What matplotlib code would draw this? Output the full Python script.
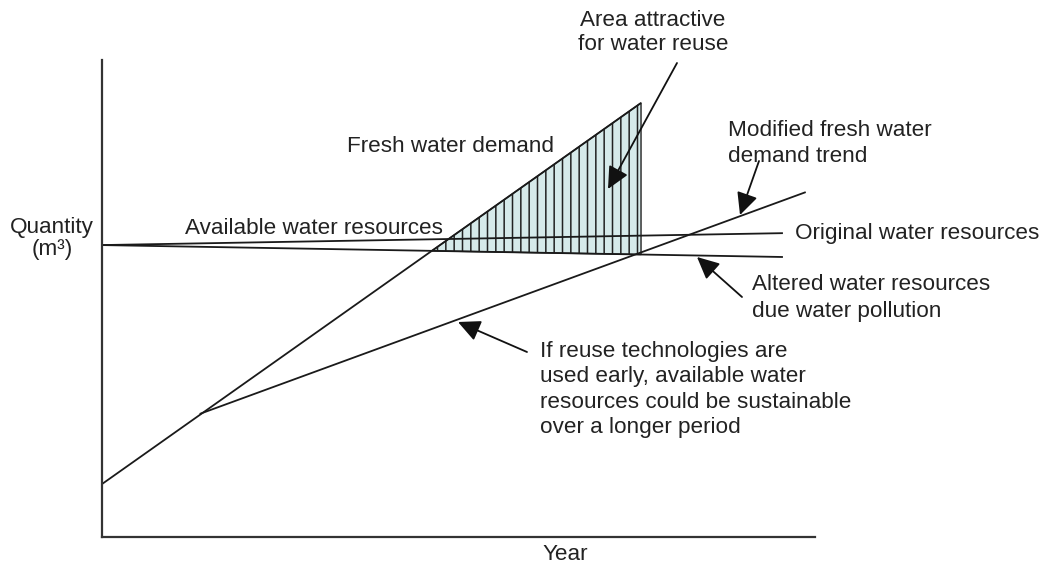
import numpy as np
import matplotlib
matplotlib.use("Agg")
from matplotlib import pyplot as plt
from matplotlib.patches import FancyArrowPatch

demand_year = [0.0, 75.6]
demand_qty = [11.1, 91.0]

resource_year = [0.0, 95.5]
original_qty = [61.2, 63.7]
altered_qty = [61.2, 58.7]

modified_year = [13.7, 98.7]
modified_qty = [25.8, 72.3]

W, H = 1043, 570
plt.rcParams['font.family'] = ['Liberation Sans', 'DejaVu Sans']
plt.rcParams['hatch.linewidth'] = 1.1
plt.rcParams['hatch.color'] = '#222222'

fig = plt.figure(figsize=(W / 100, H / 100), dpi=100)
ax = fig.add_axes([102 / W, (H - 537) / H, 713 / W, 477 / H])
ax.set_xlim(0, 100)
ax.set_ylim(0, 100)
ax.set_xticks([])
ax.set_yticks([])
for s in ['top', 'right']:
    ax.spines[s].set_visible(False)
for s in ['left', 'bottom']:
    ax.spines[s].set_linewidth(1.6)
    ax.spines[s].set_color('#333333')

line_kw = dict(color='#1a1a1a', lw=1.3, solid_capstyle='butt')
ax.plot(demand_year, demand_qty, **line_kw)
ax.plot(resource_year, original_qty, **line_kw)
ax.plot(resource_year, altered_qty, **line_kw)
ax.plot(modified_year, modified_qty, **line_kw)

# shaded area between demand line and altered resources
d_slope = np.diff(demand_qty)[0] / np.diff(demand_year)[0]
a_slope = np.diff(altered_qty)[0] / np.diff(resource_year)[0]
x_cross = (altered_qty[0] - demand_qty[0]) / (d_slope - a_slope)
xs = np.linspace(x_cross, demand_year[1], 60)
top = np.interp(xs, demand_year, demand_qty)
bot = np.interp(xs, resource_year, altered_qty)
ax.fill_between(xs, bot, top, facecolor='#d6eaea', edgecolor='#222222',
                hatch='||', linewidth=1.0)


def fp(px, py):
    return (px / W, 1 - py / H)


fs = 16.2
txt = dict(fontsize=fs, color='#222222', va='center')
fig.text(*fp(653, 20), 'Area attractive', ha='center', **txt)
fig.text(*fp(653, 45), 'for water reuse', ha='center', **txt)
fig.text(*fp(347, 146), 'Fresh water demand', ha='left', **txt)
fig.text(*fp(728, 130), 'Modified fresh water', ha='left', **txt)
fig.text(*fp(728, 156), 'demand trend', ha='left', **txt)
fig.text(*fp(185, 228), 'Available water resources', ha='left', **txt)
fig.text(*fp(52, 228), 'Quantity', ha='center', **txt)
fig.text(*fp(52, 250), '(m³)', ha='center', **txt)
fig.text(*fp(795, 234), 'Original water resources', ha='left', **txt)
fig.text(*fp(752, 285), 'Altered water resources', ha='left', **txt)
fig.text(*fp(752, 311), 'due water pollution', ha='left', **txt)
for i, s in enumerate(['If reuse technologies are',
                       'used early, available water',
                       'resources could be sustainable',
                       'over a longer period']):
    fig.text(*fp(540, 351 + i * 25.5), s, ha='left', **txt)
fig.text(*fp(565, 555), 'Year', ha='center', **txt)

arrow_kw = dict(arrowstyle='-|>,head_length=0.75,head_width=0.36',
                color='#111111', lw=1.3, shrinkA=0, shrinkB=0)
arrows = [((677, 63), (608, 189)),
          ((759, 161), (740, 215)),
          ((742, 297), (697, 257)),
          ((527, 352), (458, 322))]
for (x0, y0), (x1, y1) in arrows:
    fig.add_artist(FancyArrowPatch(
        fp(x0, y0), fp(x1, y1), transform=fig.transFigure,
        mutation_scale=18, **arrow_kw))

fig.savefig('out.png', dpi=100)
